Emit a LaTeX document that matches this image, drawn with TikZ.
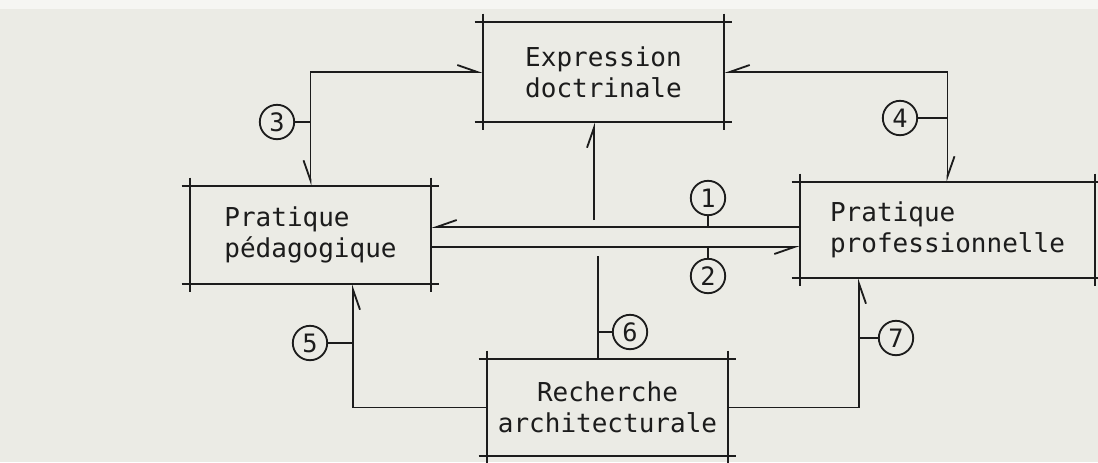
\documentclass[tikz,border=0pt]{standalone}
\usepackage{fontspec}
\setmonofont{DejaVu Sans Mono}
\usetikzlibrary{arrows.meta,positioning}
\definecolor{paper}{RGB}{235,235,229}
\definecolor{ink}{RGB}{28,28,28}

\begin{document}
\begin{tikzpicture}[
        x=0.025cm, y=-0.025cm,
        every node/.style={font=\ttfamily\fontsize{18.5}{22}\selectfont, text=ink, inner sep=0pt},
        box/.style={minimum width=6.025cm, minimum height=2.45cm},
        num/.style={circle, draw=ink, line width=1.3pt, minimum size=0.86cm, font=\ttfamily\fontsize{18}{18}\selectfont},
        edge/.style={draw=ink, line width=1.3pt},
        hl/.tip={Straight Barb[left, length=5mm, width=3.5mm]},
        hr/.tip={Straight Barb[right, length=5mm, width=3.5mm]},
    ]
    
    % paper
    \fill[paper] (0,0) rectangle (1098,462);
    \fill[white!55!paper] (0,0) rectangle (1098,9);
    \useasboundingbox (0,0) rectangle (1098,462);
    
    % === BOXES ===
    \node[box, minimum height=2.5cm, align=center] (expr) at (603.5, 72) {Expression\\doctrinale};
    \node[box, align=left] (peda) at (310.5, 235) {Pratique\\pédagogique};
    \node[box, minimum width=7.375cm, minimum height=2.4cm, align=left] (prof) at (947.5, 230) {Pratique\\professionnelle};
    \node[box, minimum height=2.425cm, align=center] (rech) at (607.5, 407.5) {Recherche\\architecturale};
    
    \foreach \b in {expr,peda,prof,rech}{
        \draw[edge] ([xshift=-2mm]\b.north west) -- ([xshift=2mm]\b.north east);
        \draw[edge] ([xshift=-2mm]\b.south west) -- ([xshift=2mm]\b.south east);
        \draw[edge] ([yshift=2mm]\b.north west) -- ([yshift=-2mm]\b.south west);
        \draw[edge] ([yshift=2mm]\b.north east) -- ([yshift=-2mm]\b.south east);
    }
    
    % === LINKS ===
    \coordinate (l1) at (0, 227);
    \coordinate (l2) at (0, 247);
    \coordinate (up) at (594, 220);
    \coordinate (six) at (598, 256);
    \coordinate (five) at (353, 0);
    \coordinate (seven) at (859, 0);
    
    \draw[edge, hl-hr] (expr.west) -| (peda.north);
    \draw[edge, hr-hl] (expr.east) -| (prof.north);
    \draw[edge, -hl] (up) -- (up |- expr.south);
    \draw[edge, -hr] (prof.west |- l1) -- (peda.east |- l1);
    \draw[edge, -hr] (peda.east |- l2) -- (prof.west |- l2);
    \draw[edge] (six) -- (six |- rech.north);
    \draw[edge, -hr] (rech.west) -- (rech.west -| five) -- (five |- peda.south);
    \draw[edge, -hr] (rech.east) -- (rech.east -| seven) -- (seven |- prof.south);
    
    % === NUMBERS ===
    \node[num] (c1) at (708, 198) {1};
    \node[num] (c2) at (708, 276) {2};
    \node[num] (c3) at (277, 122) {3};
    \node[num] (c4) at (900, 118) {4};
    \node[num] (c5) at (310, 343) {5};
    \node[num] (c6) at (630, 332) {6};
    \node[num] (c7) at (896, 338) {7};
    
    \draw[edge] (c1.south) -- (c1 |- l1);
    \draw[edge] (c2.north) -- (c2 |- l2);
    \draw[edge] (c3.east) -- (c3 -| peda.north);
    \draw[edge] (c4.east) -- (c4 -| prof.north);
    \draw[edge] (c5.east) -- (c5 -| five);
    \draw[edge] (c6.west) -- (c6 -| six);
    \draw[edge] (c7.west) -- (c7 -| seven);
    
\end{tikzpicture}
\end{document}
